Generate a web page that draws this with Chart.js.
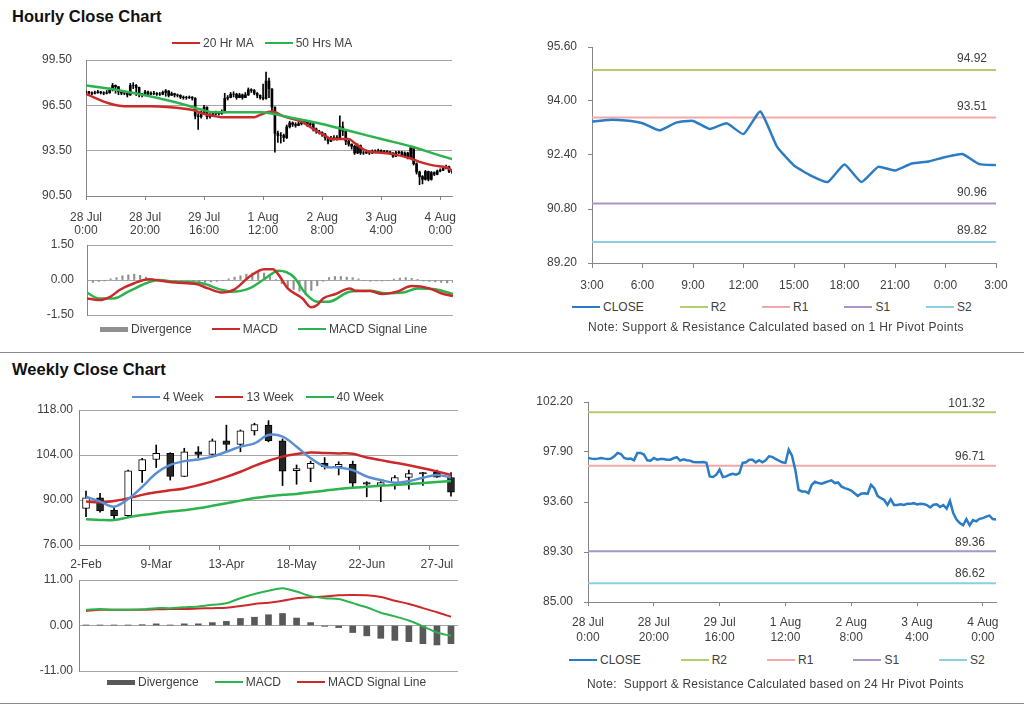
<!DOCTYPE html>
<html>
<head>
<meta charset="utf-8">
<script src="https://cdn.jsdelivr.net/npm/chart.js@4.4.1/dist/chart.umd.min.js"></script>
<style>
  body { margin: 0; background: #fff; font-family: "Liberation Sans", Arial, sans-serif; }
  #page { position: relative; width: 1024px; height: 706px; overflow: hidden; }
  canvas, .lg, .ttl, .note, .rule { position: absolute; }
  .ttl { left: 12px; font-weight: bold; font-size: 16.5px; line-height: 16px; color: #111; }
  .lg { display: flex; align-items: center; font-size: 12px; line-height: 14px; color: #404040; white-space: nowrap; }
  .lg .it { display: flex; align-items: center; }
  .lg .sw { display: inline-block; width: 28px; margin-right: 3px; }
  .note { font-size: 12px; line-height: 14px; color: #404040; white-space: pre; }
  .rule { left: 0; width: 1024px; height: 1px; background: #8c8c8c; }
</style>
</head>
<body>
<div id="page">
  <div class="ttl" style="top:8px">Hourly Close Chart</div>
  <canvas id="cA" width="470" height="210" style="left:0;top:30px"></canvas>
  <div class="lg" id="lgA" style="left:172px;top:36px"></div>
  <canvas id="cB" width="470" height="90" style="left:0;top:236px"></canvas>
  <div class="lg" id="lgB" style="left:100px;top:322px"></div>
  <canvas id="cC" width="504" height="265" style="left:520px;top:30px"></canvas>
  <div class="lg" id="lgC" style="left:572px;top:300px"></div>
  <div class="note" style="left:588px;top:320px;letter-spacing:0.35px">Note: Support &amp; Resistance Calculated based on 1 Hr Pivot Points</div>
  <div class="rule" style="top:352px"></div>

  <div class="ttl" style="top:361px">Weekly Close Chart</div>
  <canvas id="cD" width="470" height="175" style="left:0;top:395px"></canvas>
  <div class="lg" id="lgD" style="left:132px;top:390px"></div>
  <canvas id="cE" width="470" height="110" style="left:0;top:572px"></canvas>
  <div class="lg" id="lgE" style="left:107px;top:675px"></div>
  <canvas id="cF" width="504" height="260" style="left:520px;top:390px"></canvas>
  <div class="lg" id="lgF" style="left:569px;top:653px"></div>
  <div class="note" style="left:587px;top:677px;letter-spacing:0.2px">Note:  Support &amp; Resistance Calculated based on 24 Hr Pivot Points</div>
  <div class="rule" style="top:703px"></div>
</div>

<script>
// ---- hourly data (one point per trading hour, 28 Jul 0:00 .. 4 Aug 4:00)
const hourTicks = [0, 20, 40, 60, 80, 100, 120];
const hourTickLabels = [['28 Jul', '0:00'], ['28 Jul', '20:00'], ['29 Jul', '16:00'], ['1 Aug', '12:00'],
  ['2 Aug', '8:00'], ['3 Aug', '4:00'], ['4 Aug', '0:00']];

const hClose = [
  97.39, 97.33, 97.30, 97.33, 97.39, 97.33, 97.30, 97.33, 97.53, 97.82,
  97.73, 97.39, 97.30, 97.33, 97.19, 97.82, 97.82, 97.68, 97.19, 97.16,
  97.39, 97.24, 97.30, 97.30, 97.24, 97.24, 97.36, 97.45, 97.16, 97.27,
  97.19, 97.16, 97.04, 97.01, 97.01, 97.04, 96.98, 95.80, 95.75, 95.95,
  96.38, 95.75, 95.80, 95.95, 96.03, 95.95, 96.09, 96.96, 97.01, 97.24,
  97.24, 97.01, 97.19, 97.01, 97.19, 97.53, 97.48, 97.30, 97.16, 97.01,
  96.96, 98.11, 97.59, 96.38, 94.65, 94.51, 94.51, 94.36, 95.08, 95.34,
  95.23, 95.17, 95.28, 95.37, 95.46, 95.23, 95.28, 94.94, 94.79, 94.71,
  94.59, 94.36, 94.13, 94.31, 94.36, 94.31, 95.08, 94.79, 94.13, 93.93,
  93.79, 93.35, 93.84, 93.35, 93.35, 93.41, 93.35, 93.44, 93.44, 93.50,
  93.39, 93.44, 93.42, 93.34, 93.13, 93.36, 93.41, 93.17, 93.34, 93.02,
  93.69, 92.64, 92.09, 91.79, 91.60, 92.12, 91.60, 92.05, 91.94, 92.15,
  92.21, 92.34, 92.43, 92.13, 92.10
];
const hHigh = [
  97.45, 97.42, 97.40, 97.45, 97.50, 97.42, 97.40, 97.48, 97.65, 97.95,
  97.85, 97.75, 97.42, 97.45, 97.40, 97.95, 98.00, 97.88, 97.70, 97.30,
  97.50, 97.45, 97.40, 97.42, 97.35, 97.35, 97.45, 97.55, 97.48, 97.38,
  97.30, 97.25, 97.20, 97.12, 97.10, 97.12, 97.08, 97.00, 95.95, 96.10,
  96.50, 96.40, 95.95, 96.05, 96.12, 96.10, 96.20, 97.30, 97.15, 97.35,
  97.40, 97.30, 97.30, 97.25, 97.35, 97.65, 97.60, 97.55, 97.35, 97.20,
  97.90, 98.70, 98.30, 97.60, 96.40, 94.80, 94.70, 94.60, 95.20, 95.45,
  95.40, 95.35, 95.40, 95.50, 95.55, 95.50, 95.40, 95.30, 95.00, 94.85,
  94.75, 94.65, 94.40, 94.45, 94.50, 94.50, 95.80, 95.40, 94.80, 94.20,
  93.95, 93.85, 93.95, 93.88, 93.45, 93.55, 93.50, 93.55, 93.55, 93.60,
  93.55, 93.52, 93.50, 93.45, 93.38, 93.45, 93.48, 93.45, 93.42, 93.40,
  93.80, 93.72, 92.70, 92.15, 91.85, 92.20, 92.15, 92.12, 92.10, 92.22,
  92.30, 92.45, 92.55, 92.48, 92.20
];
const hLow = [
  97.30, 97.25, 97.20, 97.25, 97.30, 97.25, 97.20, 97.25, 97.30, 97.45,
  97.30, 97.20, 97.20, 97.20, 97.05, 97.15, 97.60, 97.15, 97.05, 97.05,
  97.15, 97.15, 97.20, 97.20, 97.15, 97.15, 97.20, 97.10, 97.05, 97.15,
  97.05, 97.05, 96.95, 96.90, 96.90, 96.95, 96.85, 95.60, 94.90, 95.65,
  95.90, 95.60, 95.65, 95.80, 95.85, 95.85, 95.90, 96.00, 96.85, 97.00,
  97.05, 96.90, 97.00, 96.90, 97.00, 97.15, 97.35, 97.20, 97.00, 96.90,
  96.85, 96.90, 97.00, 96.00, 93.40, 94.05, 94.00, 94.10, 94.30, 95.00,
  95.10, 95.05, 95.15, 95.20, 95.25, 95.10, 95.15, 94.80, 94.65, 94.60,
  94.45, 94.20, 93.95, 94.10, 94.20, 94.20, 94.25, 94.50, 93.90, 93.80,
  93.60, 93.25, 93.30, 93.25, 93.25, 93.30, 93.25, 93.30, 93.35, 93.40,
  93.30, 93.35, 93.32, 93.25, 93.05, 93.10, 93.30, 93.10, 93.12, 92.95,
  92.98, 92.55, 91.95, 91.25, 91.30, 91.55, 91.50, 91.55, 91.85, 91.90,
  92.10, 92.18, 92.30, 92.05, 92.00
];
// moving averages as [hour, value]
const ma20h = [[0, 97.26], [8, 96.62], [13, 96.44], [22, 96.44], [34, 96.26], [37, 96.15], [39, 95.99],
  [44, 95.77], [46, 95.71], [57, 95.71], [59, 95.87], [63, 96.09], [67, 95.77], [73, 95.42], [77, 94.93],
  [81, 94.49], [83, 94.27], [89, 94.27], [91, 94.00], [95, 93.49], [99, 93.38], [104, 93.27], [110, 92.98],
  [113, 92.76], [118, 92.51], [122, 92.40], [124, 92.20]];
const ma50h = [[0, 97.82], [9.5, 97.55], [18.6, 97.22], [27.6, 96.84], [34.4, 96.49], [38.9, 96.22],
  [43.4, 96.04], [59.3, 96.04], [63.2, 95.95], [67.2, 95.78], [78.5, 95.33], [89.8, 94.78], [101.1, 94.22],
  [110.2, 93.78], [118.1, 93.29], [124, 92.94]];
const yTicksA = [90.5, 93.5, 96.5, 99.5];

// hourly MACD as [hour, value]; divergence every 2 hours
const hMacd = [[0, -0.79], [4, -0.86], [8, -0.71], [11, -0.43], [16, -0.14], [21, 0.03], [25, -0.03],
  [30, -0.11], [37, -0.17], [41, -0.36], [46, -0.54], [50, -0.40], [55, 0.14], [60, 0.46], [63, 0.46],
  [65, 0.21], [68, -0.36], [73, -0.79], [76, -1.17], [78, -1.07], [80, -0.79], [84, -0.61], [89, -0.36],
  [91, -0.46], [96, -0.47], [100, -0.60], [105, -0.50], [110, -0.26], [116, -0.36], [120, -0.57], [124, -0.69]];
const hSignal = [[0, -0.54], [4, -0.79], [9, -0.79], [14, -0.50], [20, -0.14], [24, 0], [30, -0.07],
  [39, -0.14], [45, -0.40], [49, -0.50], [55, -0.36], [60, 0.03], [65, 0.40], [70, 0.14], [74, -0.57],
  [78, -0.93], [82, -0.93], [89, -0.50], [96, -0.46], [101, -0.57], [107, -0.54], [112, -0.36], [118, -0.40],
  [124, -0.60]];
const hDiv = [-0.10, -0.10, -0.06, -0.04, 0.05, 0.10, 0.18, 0.22, 0.25, 0.20, 0.12, 0.05, 0.02,
  0.01, -0.02, -0.04, -0.06, -0.05, -0.06, -0.08, -0.10, -0.08, -0.06, -0.02, 0.05,
  0.12, 0.18, 0.25, 0.30, 0.35, 0.30, 0.15, 0.02, -0.15, -0.30, -0.40, -0.48, -0.55,
  -0.45, -0.25, -0.05, 0.10, 0.15, 0.15, 0.12, 0.10, 0.05, -0.03, -0.05, -0.04, -0.04,
  -0.02, 0.04, 0.08, 0.10, 0.07, 0.03, -0.04, -0.06, -0.08, -0.10, -0.12, -0.10];
const yTicksB = [-1.5, 0, 1.5];

// last 24 hours, 1 Hr pivots
const h1Labels = ['3:00', '4:00', '5:00', '6:00', '7:00', '8:00', '9:00', '10:00', '11:00', '12:00', '13:00',
  '14:00', '15:00', '16:00', '17:00', '18:00', '19:00', '20:00', '21:00', '22:00', '23:00', '0:00', '1:00',
  '2:00', '3:00'];
const h1Close = hClose.slice(-25);
const yTicksC = [89.2, 90.8, 92.4, 94.0, 95.6];
const pivotNames = ['R2', 'R1', 'S1', 'S2'];
const pivots1h = [94.92, 93.51, 90.96, 89.82];
const pivots24h = [101.32, 96.71, 89.36, 86.62];
const yTicksF = [85, 89.3, 93.6, 97.9, 102.2];

// ---- weekly data
const weekLabels = ['2-Feb', '9-Feb', '16-Feb', '23-Feb', '2-Mar', '9-Mar', '16-Mar', '23-Mar', '30-Mar',
  '6-Apr', '13-Apr', '20-Apr', '27-Apr', '4-May', '11-May', '18-May', '25-May', '1-Jun', '8-Jun', '15-Jun',
  '22-Jun', '29-Jun', '6-Jul', '13-Jul', '20-Jul', '27-Jul', '3-Aug'];
const wOpen = [87.4, 90.7, 86.9, 85.1, 99.1, 102.6, 104.5, 97.3, 105.0, 104.2, 108.4, 107.3, 111.5, 113.3,
  108.4, 99.1, 99.8, 101.4, 100.4, 101.1, 95.4, 94.5, 95.4, 97.0, 98.5, 98.6, 97.0];
const wClose = [90.7, 86.6, 85.1, 99.1, 102.6, 104.5, 97.3, 105.0, 104.2, 108.4, 107.3, 111.5, 113.5, 108.4,
  99.0, 99.8, 101.4, 100.4, 101.1, 95.2, 94.9, 95.4, 97.0, 98.2, 98.1, 97.1, 92.4];
const wHigh = [92.8, 92.1, 87.6, 99.3, 103.0, 107.1, 104.7, 106.1, 106.6, 109.0, 113.3, 111.8, 113.9, 114.7,
  109.0, 100.9, 102.1, 103.2, 101.9, 102.1, 95.7, 95.7, 97.6, 99.3, 98.6, 99.3, 98.5];
const wLow = [84.8, 86.2, 84.1, 84.8, 95.5, 100.1, 96.2, 97.3, 103.2, 104.0, 105.0, 105.0, 110.2, 108.1,
  94.5, 94.9, 95.7, 99.6, 97.8, 94.1, 91.0, 89.5, 93.4, 93.4, 94.5, 97.0, 91.2];
const ma4w = [91.0, 89.5, 87.9, 90.3, 94.1, 98.3, 100.9, 102.1, 102.6, 103.5, 105.0, 106.6, 107.6, 110.2,
  109.7, 106.6, 103.0, 100.4, 100.1, 99.3, 97.3, 96.2, 95.4, 95.9, 96.9, 97.8, 97.0];
const ma13w = [89.5, 89.3, 89.7, 90.5, 91.6, 92.4, 93.0, 93.6, 94.6, 95.8, 97.2, 98.8, 100.6, 102.2, 103.5,
  104.3, 104.8, 104.6, 104.5, 104.4, 103.2, 102.4, 101.6, 100.8, 99.9, 98.9, 97.8];
const ma40w = [84.0, 83.8, 83.8, 84.6, 85.3, 85.9, 86.4, 86.8, 87.4, 88.2, 89.0, 89.8, 90.6, 91.2, 91.6, 91.9,
  92.4, 92.9, 93.4, 93.8, 94.1, 94.4, 94.7, 95.0, 95.3, 95.6, 95.9];
const yTicksD = [76, 90, 104, 118];

const wMacd = [3.8, 4.0, 3.8, 3.8, 3.9, 4.2, 4.2, 4.4, 4.6, 5.0, 5.4, 6.6, 7.6, 8.4, 9.0, 8.2, 7.1, 6.6, 6.4,
  5.4, 4.4, 3.1, 2.2, 1.2, -0.2, -1.7, -2.5];
const wSignal = [3.5, 3.8, 3.8, 3.8, 3.8, 3.9, 4.0, 4.0, 4.1, 4.2, 4.3, 4.7, 5.2, 5.5, 6.0, 6.6, 6.8, 7.0, 7.3,
  7.4, 7.3, 6.9, 6.0, 5.2, 4.2, 3.2, 2.1];
const wDiv = [0.1, 0.1, 0.1, 0.1, 0.2, 0.4, 0.1, 0.4, 0.4, 0.7, 1.0, 1.7, 2.0, 2.6, 2.9, 1.8, 0.7, -0.2, -0.5,
  -1.7, -2.5, -3.1, -3.6, -3.9, -4.4, -4.7, -4.4];
const yTicksE = [-11, 0, 11];

// ---- styling
const AX = '#868686', GRID = '#a6a6a6', TXT = '#404040';
const RED = '#cc2a2a', GREEN = '#2db34e', BLUE = '#2b7cc4', LBLUE = '#5b8fd4';
const pivotColors = ['#b3cd6e', '#f0a9a8', '#a995c8', '#8ccfe3'];

Chart.defaults.font.family = '"Liberation Sans", Arial, sans-serif';
Chart.defaults.font.size = 12;
Chart.defaults.color = TXT;
Chart.defaults.animation = false;
Chart.defaults.plugins.legend.display = false;
Chart.defaults.plugins.tooltip.enabled = false;
Chart.defaults.elements.point.radius = 0;

function yScale(ticks, width, pad, grid) {
  return {
    min: ticks[0], max: ticks[ticks.length - 1],
    afterBuildTicks: s => { s.ticks = ticks.map(v => ({ value: v })); },
    // fixed width; drop the label padding so the plot area is exactly what the layout padding says
    afterFit: s => { s.width = width; s.paddingTop = 0; s.paddingBottom = 0; },
    border: { color: AX },
    grid: grid ? { color: GRID, drawTicks: false } : { drawOnChartArea: false, tickLength: 4, color: AX },
    ticks: { padding: pad, callback: v => v.toFixed(2) }
  };
}

// x axis kept but zero-height and empty
const bareX = extra => Object.assign({
  afterFit: s => { s.height = 0; },
  ticks: { display: false },
  grid: { display: false },
  border: { display: false }
}, extra);

function hourX(height, pad, lh) {
  return {
    type: 'linear', min: 0, max: 124, offset: false,
    afterBuildTicks: s => { s.ticks = hourTicks.map(v => ({ value: v })); },
    afterFit: s => { s.height = height; },
    border: { color: AX },
    grid: { offset: false, drawOnChartArea: false, tickLength: 4, color: AX },
    ticks: { padding: pad, maxRotation: 0, autoSkip: false, font: { lineHeight: lh },
      callback: v => hourTickLabels[hourTicks.indexOf(v)] }
  };
}

const pts = arr => arr.map(([x, y]) => ({ x, y }));

const pivotLabels = {
  id: 'pivotLabels',
  afterDatasetsDraw(chart, args, opts) {
    const { ctx, chartArea, scales: { y } } = chart;
    ctx.save();
    ctx.font = '12px "Liberation Sans", Arial, sans-serif';
    ctx.fillStyle = TXT;
    ctx.textAlign = 'right';
    ctx.textBaseline = 'middle';
    opts.values.forEach(v => ctx.fillText(v.toFixed(2), chartArea.right - opts.inset, y.getPixelForValue(v) - opts.lift));
    ctx.restore();
  }
};

function htmlLegend(id, chart, gap) {
  const el = document.getElementById(id);
  chart.data.datasets.filter(d => d.label).forEach((d, i) => {
    const it = document.createElement('span');
    it.className = 'it';
    if (i) it.style.marginLeft = gap + 'px';
    const sw = document.createElement('span');
    sw.className = 'sw';
    const isLine = d.type === 'line' || (!d.type && chart.config.type === 'line');
    sw.style.height = isLine ? '2px' : '5px';
    sw.style.background = isLine ? d.borderColor : d.backgroundColor;
    it.appendChild(sw);
    it.appendChild(document.createTextNode(d.label));
    el.appendChild(it);
  });
}

// ---- A: hourly candles with moving averages
const chartA = new Chart(document.getElementById('cA'), {
  type: 'bar',
  data: {
    datasets: [
      { type: 'bar', label: '', data: hClose.map((c, i) => ({ x: i, y: [i ? hClose[i - 1] : c, c] })),
        backgroundColor: '#000', barThickness: 2, grouped: false, order: 2 },
      { type: 'bar', label: '', data: hHigh.map((h, i) => ({ x: i, y: [hLow[i], h] })),
        backgroundColor: '#000', barThickness: 1, grouped: false, order: 3 },
      { type: 'line', label: '20 Hr MA', data: pts(ma20h), borderColor: RED, backgroundColor: RED,
        borderWidth: 2.5, cubicInterpolationMode: 'monotone', order: 1 },
      { type: 'line', label: '50 Hrs MA', data: pts(ma50h), borderColor: GREEN, backgroundColor: GREEN,
        borderWidth: 2.5, cubicInterpolationMode: 'monotone', order: 0 }
    ]
  },
  options: {
    responsive: false,
    layout: { padding: { left: 0, top: 30, right: 18, bottom: 0 } },
    scales: { x: hourX(44, 11, 1.1), y: yScale(yTicksA, 86, 14, true) }
  }
});
htmlLegend('lgA', chartA, 11);

// ---- B: hourly MACD
const chartB = new Chart(document.getElementById('cB'), {
  type: 'bar',
  data: {
    datasets: [
      { type: 'bar', label: 'Divergence', data: hDiv.map((v, i) => ({ x: i * 2, y: v })),
        backgroundColor: '#8f8f8f', barThickness: 1.5, order: 2 },
      { type: 'line', label: 'MACD', data: pts(hMacd), borderColor: RED, borderWidth: 2.5,
        cubicInterpolationMode: 'monotone', order: 0 },
      { type: 'line', label: 'MACD Signal Line', data: pts(hSignal), borderColor: GREEN, borderWidth: 2.5,
        cubicInterpolationMode: 'monotone', order: 1 }
    ]
  },
  options: {
    responsive: false,
    layout: { padding: { left: 0, top: 9, right: 17, bottom: 11 } },
    scales: { x: bareX({ type: 'linear', min: 0, max: 124, offset: false }), y: yScale(yTicksB, 87, 13, true) }
  }
});
htmlLegend('lgB', chartB, 20);

// ---- C: last 24 hours with 1 Hr pivots
const chartC = new Chart(document.getElementById('cC'), {
  type: 'line',
  data: {
    labels: h1Labels,
    datasets: [
      { label: 'CLOSE', data: h1Close, borderColor: BLUE, borderWidth: 2.5, tension: 0.15 },
      ...pivotNames.map((n, k) => ({ label: n, data: h1Labels.map(() => pivots1h[k]),
        borderColor: pivotColors[k], borderWidth: 2 }))
    ]
  },
  options: {
    responsive: false,
    layout: { padding: { left: 0, top: 17, right: 28, bottom: 2 } },
    scales: {
      x: {
        type: 'category', offset: false,
        afterFit: s => { s.height = 30; },
        border: { color: AX },
        grid: { drawOnChartArea: false, tickLength: 5, color: AX,
          tickColor: c => (c.index % 3 === 0 ? AX : 'rgba(0,0,0,0)') },
        ticks: { padding: 10, autoSkip: false, maxRotation: 0,
          callback: (v, i) => (i % 3 === 0 ? h1Labels[i] : '') }
      },
      y: yScale(yTicksC, 72, 11, false)
    },
    plugins: { pivotLabels: { values: pivots1h, lift: 11, inset: 9 } }
  },
  plugins: [pivotLabels]
});
htmlLegend('lgC', chartC, 36);

// ---- D: weekly candles with moving averages
const chartD = new Chart(document.getElementById('cD'), {
  type: 'bar',
  data: {
    labels: weekLabels,
    datasets: [
      { type: 'bar', label: '', data: wOpen.map((o, i) => [o, wClose[i]]),
        backgroundColor: wClose.map((c, i) => (c >= wOpen[i] ? '#ffffff' : '#262626')),
        borderColor: '#000', borderWidth: 1, borderSkipped: false, barThickness: 7, grouped: false, order: 2 },
      { type: 'bar', label: '', data: wLow.map((l, i) => [l, wHigh[i]]),
        backgroundColor: '#000', barThickness: 1, grouped: false, order: 3 },
      { type: 'line', label: '4 Week', data: ma4w, borderColor: LBLUE, backgroundColor: LBLUE,
        borderWidth: 2.5, tension: 0.35, order: 0 },
      { type: 'line', label: '13 Week', data: ma13w, borderColor: RED, backgroundColor: RED,
        borderWidth: 2.5, tension: 0.35, order: 0 },
      { type: 'line', label: '40 Week', data: ma40w, borderColor: GREEN, backgroundColor: GREEN,
        borderWidth: 2.5, tension: 0.35, order: 0 }
    ]
  },
  options: {
    responsive: false,
    layout: { padding: { left: 0, top: 15, right: 12, bottom: 0 } },
    scales: {
      x: {
        type: 'category', offset: true,
        afterFit: s => { s.height = 25; },
        border: { color: AX },
        grid: { offset: true, drawOnChartArea: false, tickLength: 5, color: AX,
          tickColor: c => (c.index % 5 === 0 ? AX : 'rgba(0,0,0,0)') },
        ticks: { padding: 7, autoSkip: false, maxRotation: 0,
          callback: (v, i) => (i % 5 === 0 ? weekLabels[i] : '') }
      },
      y: yScale(yTicksD, 79, 6, true)
    }
  }
});
htmlLegend('lgD', chartD, 12);

// ---- E: weekly MACD
const chartE = new Chart(document.getElementById('cE'), {
  type: 'bar',
  data: {
    labels: weekLabels,
    datasets: [
      { type: 'bar', label: 'Divergence', data: wDiv, backgroundColor: '#595959', barThickness: 6, order: 2 },
      { type: 'line', label: 'MACD', data: wMacd, borderColor: GREEN, borderWidth: 2, tension: 0.3, order: 0 },
      { type: 'line', label: 'MACD Signal Line', data: wSignal, borderColor: RED, borderWidth: 2, tension: 0.3, order: 1 }
    ]
  },
  options: {
    responsive: false,
    layout: { padding: { left: 0, top: 8, right: 12, bottom: 11 } },
    scales: {
      x: bareX({ type: 'category', offset: true }),
      y: yScale(yTicksE, 79, 6, true)
    }
  }
});
htmlLegend('lgE', chartE, 16);

// ---- F: hourly close with 24 Hr pivots
const chartF = new Chart(document.getElementById('cF'), {
  type: 'line',
  data: {
    datasets: [
      { label: 'CLOSE', data: hClose.map((y, x) => ({ x, y })), borderColor: BLUE, borderWidth: 2.5, tension: 0 },
      ...pivotNames.map((n, k) => ({ label: n, data: [{ x: 0, y: pivots24h[k] }, { x: 124, y: pivots24h[k] }],
        borderColor: pivotColors[k], borderWidth: 2 }))
    ]
  },
  options: {
    responsive: false,
    layout: { padding: { left: 0, top: 12, right: 28, bottom: 2 } },
    scales: { x: hourX(46, 9, 1.25), y: yScale(yTicksF, 68, 11, false) },
    plugins: { pivotLabels: { values: pivots24h, lift: 9, inset: 11 } }
  },
  plugins: [pivotLabels]
});
htmlLegend('lgF', chartF, 40);
</script>
</body>
</html>
